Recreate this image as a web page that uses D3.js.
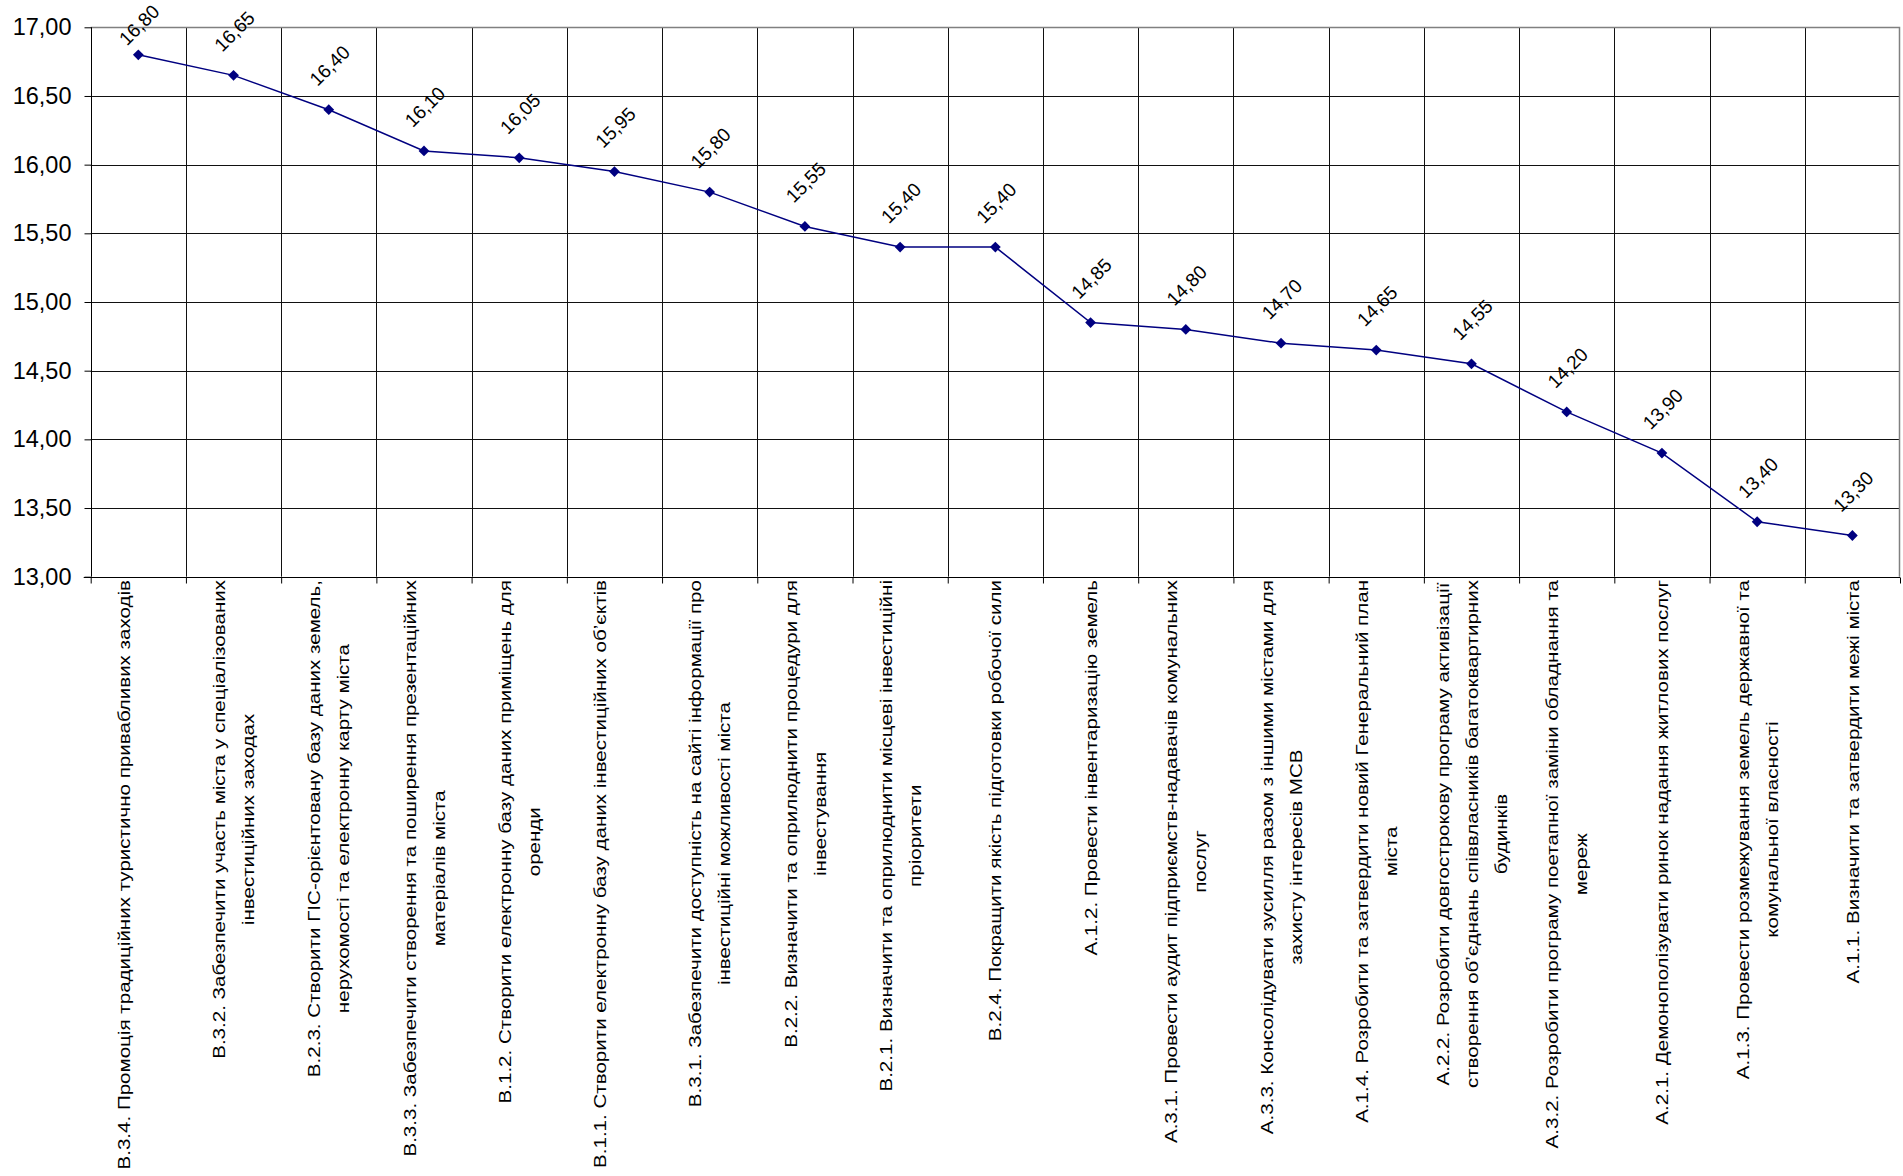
<!DOCTYPE html>
<html>
<head>
<meta charset="utf-8">
<script src="https://cdn.jsdelivr.net/npm/d3@7"></script>
<style>
  body { margin: 0; background: #fff; }
  svg { display: block; font-family: "Liberation Sans", Arial, sans-serif; }
</style>
</head>
<body>
<svg id="chart" width="1903" height="1176"></svg>
<script>
// --- data ---
const values = [16.80, 16.65, 16.40, 16.10, 16.05, 15.95, 15.80, 15.55, 15.40, 15.40,
                14.85, 14.80, 14.70, 14.65, 14.55, 14.20, 13.90, 13.40, 13.30];

// category labels, already broken into lines as in the original
const categories = [
  ["В.3.4. Промоція традиційних туристично привабливих заходів", ""],
  ["В.3.2. Забезпечити участь міста у спеціалізованих", "інвестиційних заходах"],
  ["В.2.3. Створити ГІС-орієнтовану базу даних земель,", "нерухомості та електронну карту міста"],
  ["В.3.3. Забезпечити створення та поширення презентаційних", "матеріалів міста"],
  ["В.1.2. Створити електронну базу даних приміщень для", "оренди"],
  ["В.1.1. Створити електронну базу даних інвестиційних об’єктів", ""],
  ["В.3.1. Забезпечити доступність на сайті інформації про", "інвестиційні можливості міста"],
  ["В.2.2. Визначити та оприлюднити процедури для", "інвестування"],
  ["В.2.1. Визначити та оприлюднити місцеві інвестиційні", "пріоритети"],
  ["В.2.4. Покращити якість підготовки робочої сили"],
  ["А.1.2. Провести інвентаризацію земель"],
  ["А.3.1. Провести аудит підприємств-надавачів комунальних", "послуг"],
  ["А.3.3. Консолідувати зусилля разом з іншими містами для", "захисту інтересів МСВ"],
  ["А.1.4. Розробити та затвердити новий Генеральний план", "міста"],
  ["А.2.2. Розробити довгострокову програму активізації", "створення об’єднань співвласників багатоквартирних", "будинків"],
  ["А.3.2. Розробити програму поетапної заміни обладнання та", "мереж"],
  ["А.2.1. Демонополізувати ринок надання житлових послуг"],
  ["А.1.3. Провести розмежування земель державної та", "комунальної власності"],
  ["А.1.1. Визначити та затвердити межі міста"]
];

const yTicks = [13, 13.5, 14, 14.5, 15, 15.5, 16, 16.5, 17];

// --- layout ---
const svg = d3.select("#chart");
const L = 90.7, R = 1900, T = 27.3, B = 576.7;
const fmt = d => d.toFixed(2).replace(".", ",");

const x = d3.scaleBand().domain(d3.range(values.length)).range([L, R]).paddingInner(0).paddingOuter(0);
const xEdge = d3.scaleLinear().domain([0, values.length]).range([L, R]);
const y = d3.scaleLinear().domain([13, 17]).range([B, T]);
const cx = i => x(i) + x.bandwidth() / 2;

// horizontal gridlines
svg.append("g")
  .selectAll("line").data(yTicks.filter(d => d > 13 && d < 17)).join("line")
  .attr("x1", L).attr("x2", R)
  .attr("y1", d => Math.round(y(d)) + 0.5).attr("y2", d => Math.round(y(d)) + 0.5)
  .attr("stroke", "#111").attr("stroke-width", 1);

// vertical gridlines at category edges
svg.append("g")
  .selectAll("line").data(d3.range(1, values.length)).join("line")
  .attr("x1", d => Math.round(xEdge(d)) + 0.5).attr("x2", d => Math.round(xEdge(d)) + 0.5)
  .attr("y1", T).attr("y2", B)
  .attr("stroke", "#111").attr("stroke-width", 1);

// plot border (top / right)
svg.append("path")
  .attr("d", `M${L},${Math.round(T) + 0.5}H${R - 0.5}V${B}`)
  .attr("fill", "none").attr("stroke", "#808080").attr("stroke-width", 1.5);

// y axis
const yAxis = svg.append("g")
  .attr("transform", `translate(${Math.round(L) + 0.5},0)`)
  .call(d3.axisLeft(y).tickValues(yTicks).tickSize(7).tickPadding(13).tickFormat(fmt));
yAxis.selectAll("path, line").attr("stroke", "#000");
yAxis.select(".domain").attr("d", `M0,${T}V${B}`);
yAxis.selectAll("text")
  .attr("font-family", "Liberation Sans, Arial, sans-serif")
  .attr("font-size", 23.5).attr("fill", "#000");

// x axis (ticks at category edges)
const xAxis = svg.append("g")
  .attr("transform", `translate(0,${Math.round(B) + 0.5})`)
  .call(d3.axisBottom(xEdge).tickValues(d3.range(values.length + 1)).tickSize(6).tickFormat(""));
xAxis.selectAll("path, line").attr("stroke", "#000");
xAxis.select(".domain").attr("d", `M${L - 7},0H${R}`);

// category labels, rotated; lines centred on each other, block top at the axis
const labelFont = 17, stretch = 1.21, lineGap = 29;
const catG = svg.append("g").selectAll("g").data(categories).join("g")
  .attr("transform", (d, i) => `translate(${cx(i)},580) rotate(-90) scale(${stretch},1)`);
catG.each(function(lines) {
  const g = d3.select(this);
  const n = lines.length;
  const texts = g.selectAll("text").data(lines).join("text")
    .attr("text-anchor", "middle")
    .attr("font-size", labelFont)
    .attr("fill", "#000")
    .attr("y", (t, k) => (k - (n - 1) / 2) * lineGap + labelFont * 0.36)
    .text(t => t);
  let maxW = 0;
  texts.each(function() { maxW = Math.max(maxW, this.getComputedTextLength()); });
  texts.attr("x", -maxW / 2);
});

// series line
const line = d3.line().x((d, i) => cx(i)).y(d => y(d));
svg.append("path")
  .datum(values)
  .attr("d", line)
  .attr("fill", "none")
  .attr("stroke", "#000080")
  .attr("stroke-width", 1.5);

// diamond markers
svg.append("g").selectAll("path").data(values).join("path")
  .attr("d", d3.symbol(d3.symbolSquare, 58))
  .attr("transform", (d, i) => `translate(${cx(i)},${y(d)}) rotate(45)`)
  .attr("fill", "#000080");

// data labels, rotated 45°
svg.append("g").selectAll("text").data(values).join("text")
  .attr("transform", (d, i) => `translate(${cx(i) + 1},${Math.max(25, y(d) - 44)}) rotate(-45)`)
  .attr("text-anchor", "middle")
  .attr("dominant-baseline", "central")
  .attr("font-size", 19)
  .attr("fill", "#000")
  .text(fmt);
</script>
</body>
</html>
